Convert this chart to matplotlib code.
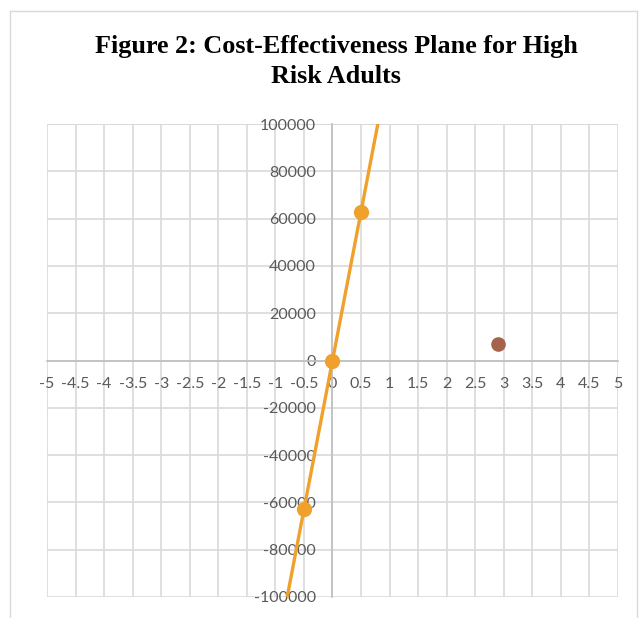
import matplotlib.pyplot as plt
from matplotlib.lines import Line2D
from matplotlib.ticker import MultipleLocator, FuncFormatter

# data
strategy_effect = [-0.5, 0.0, 0.5]
strategy_cost = [-63000, 0, 63000]
other_effect = [2.9]
other_cost = [7000]

title = "Figure 2: Cost-Effectiveness Plane for High\nRisk Adults"
x_limits = (-5, 5)
y_limits = (-100000, 100000)

fig = plt.figure(figsize=(6.43, 6.18), dpi=100)
ax = fig.add_axes([47 / 643, 1 - 597 / 618, 571 / 643, 473 / 618])

grid_col = "#d9d9d9"
axis_col = "#bfbfbf"
label_col = "#595959"

ax.set_xlim(*x_limits)
ax.set_ylim(*y_limits)
ax.xaxis.set_major_locator(MultipleLocator(0.5))
ax.yaxis.set_major_locator(MultipleLocator(20000))
ax.xaxis.set_major_formatter(FuncFormatter(lambda v, p: f"{v:g}"))
ax.yaxis.set_major_formatter(FuncFormatter(lambda v, p: f"{v:.0f}"))
ax.grid(True, color=grid_col, lw=1.2, zorder=0)
ax.set_axisbelow(True)

for s in ["top", "right"]:
    ax.spines[s].set_visible(False)
for s in ["left", "bottom"]:
    ax.spines[s].set_position("zero")
    ax.spines[s].set_color(axis_col)
    ax.spines[s].set_linewidth(1.2)
ax.tick_params(length=0, colors=label_col, labelsize=11.5, pad=12)
for lab in ax.get_xticklabels() + ax.get_yticklabels():
    lab.set_fontfamily("Lato")

# outer frame of the plot area
ax.plot([x_limits[0], x_limits[1]], [y_limits[1], y_limits[1]], color=grid_col, lw=1.2, zorder=0)

# trend line through the strategy points, clipped to the plot area
ax.axline((strategy_effect[0], strategy_cost[0]), (strategy_effect[-1], strategy_cost[-1]),
          color="#f0a12c", lw=2.4, zorder=3)
ax.plot(strategy_effect, strategy_cost, "o", color="#f0a12c", ms=10, zorder=4)
ax.plot(other_effect, other_cost, "o", color="#a5634c", ms=9.5, zorder=4)

fig.text(336 / 643, 1 - 35 / 618, title, ha="center", va="top",
         fontfamily="Liberation Serif", fontweight="bold", fontsize=18.8,
         linespacing=1.38)

# chart border
fig.add_artist(Line2D([10 / 643, 10 / 643], [0, 1 - 11 / 618], transform=fig.transFigure,
                      color="#d9d9d9", lw=1))
fig.add_artist(Line2D([10 / 643, 637 / 643], [1 - 11 / 618, 1 - 11 / 618],
                      transform=fig.transFigure, color="#d9d9d9", lw=1))
fig.add_artist(Line2D([637 / 643, 637 / 643], [0, 1 - 11 / 618], transform=fig.transFigure,
                      color="#d9d9d9", lw=1))

fig.savefig("out.png", dpi=100)
